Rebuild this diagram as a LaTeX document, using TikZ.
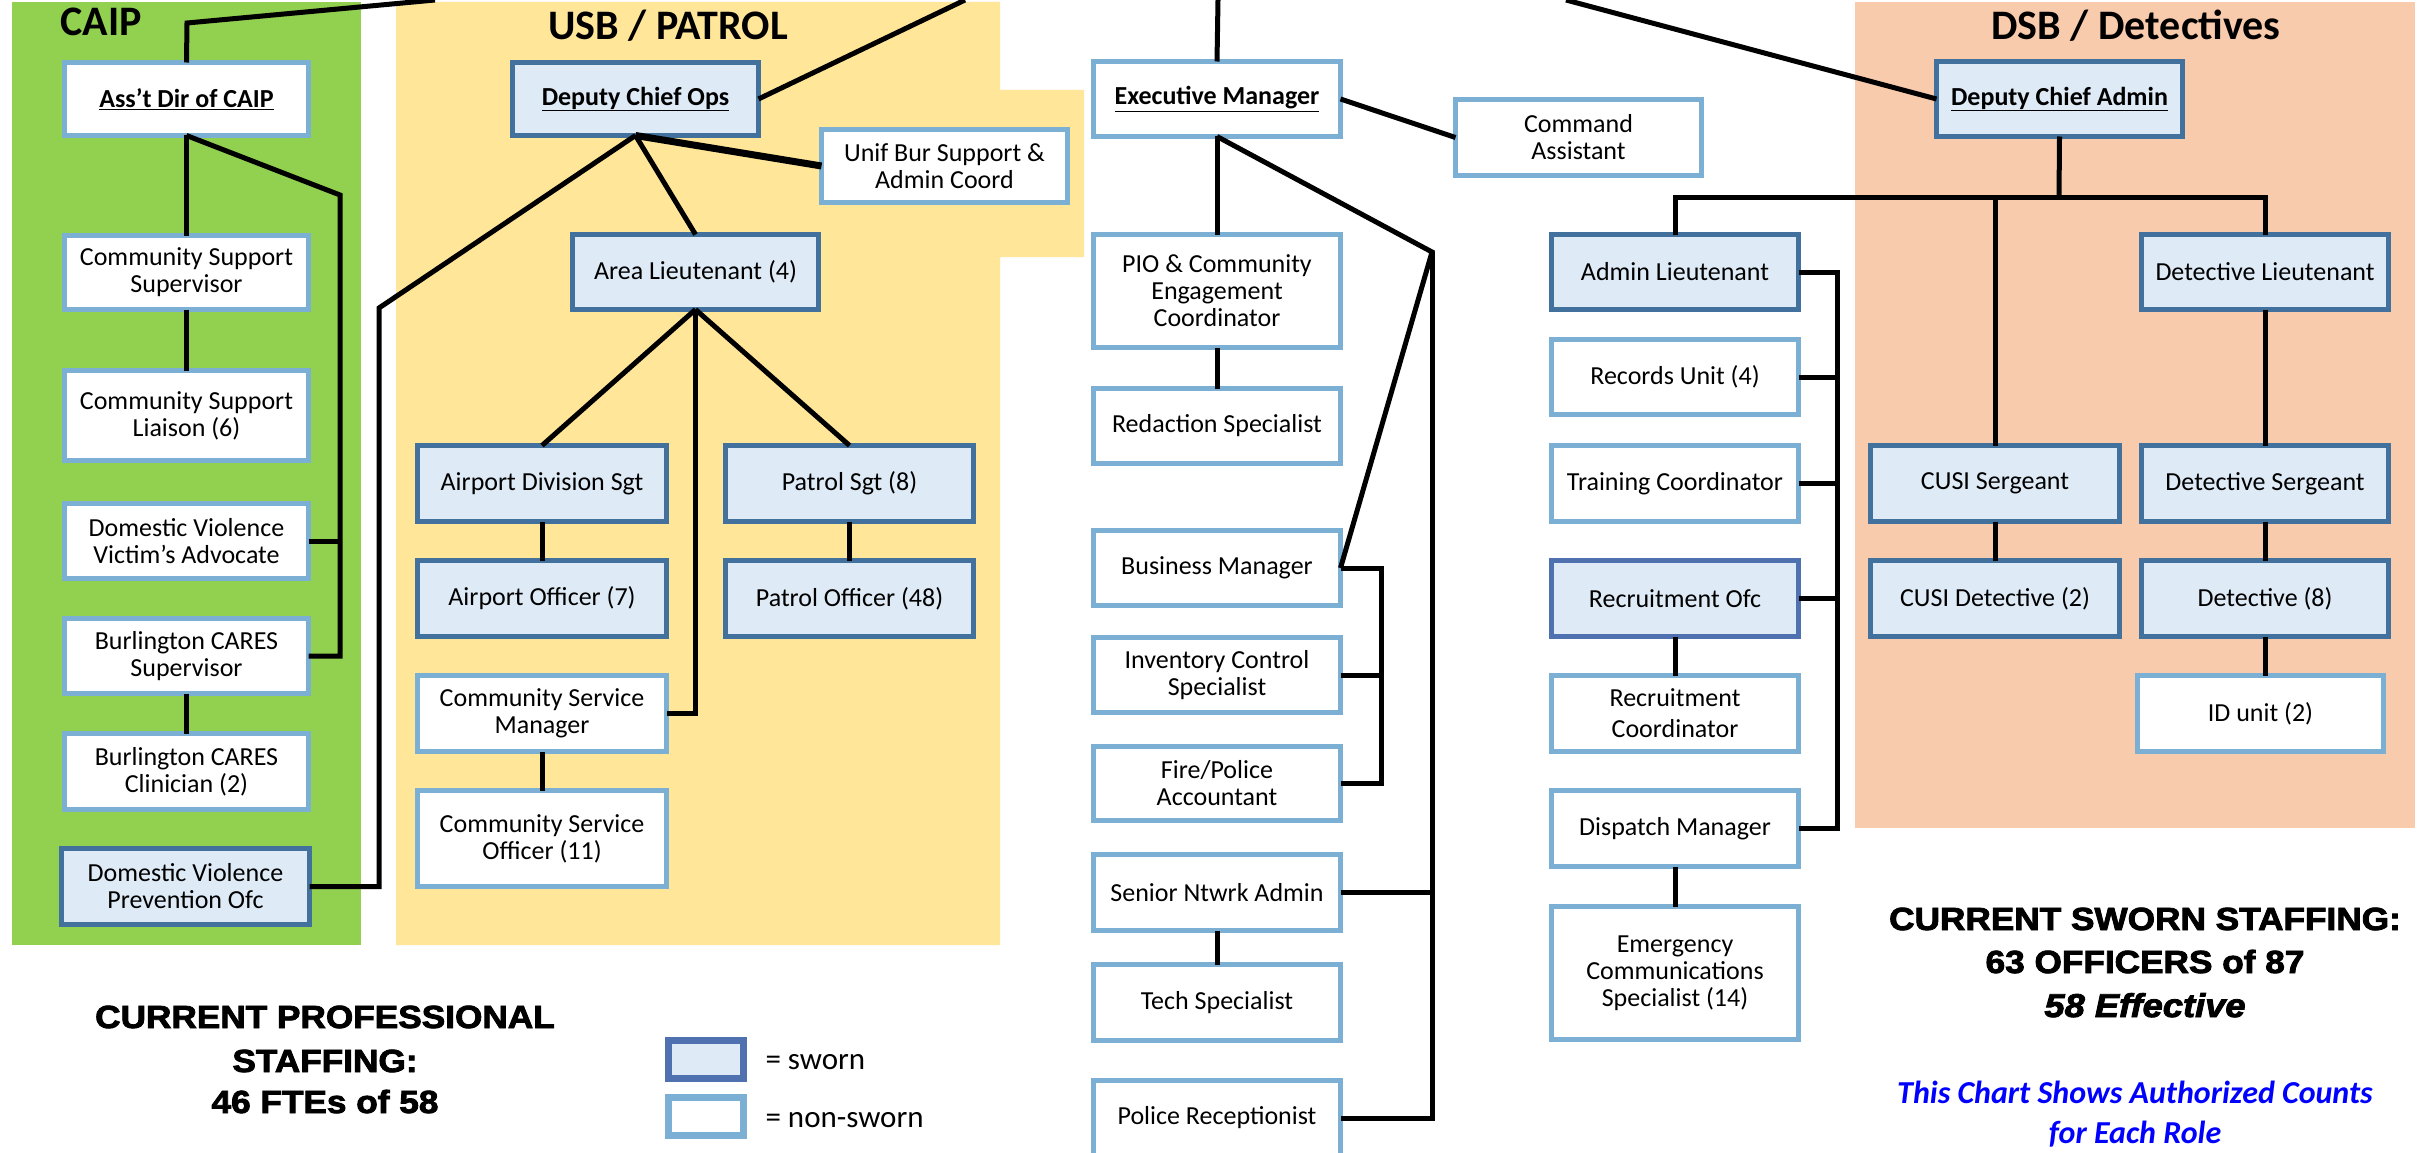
\documentclass[tikz,border=0pt]{standalone}
\usepackage{fontspec}
\usepackage{graphicx}
\setmainfont{Carlito}
\newfontfamily\heavyfont[FakeBold=2.5]{Liberation Sans Bold}
\newfontfamily\heavyitfont[FakeBold=2.5]{Liberation Sans Bold Italic}
\definecolor{caipgreen}{RGB}{146,208,80}
\definecolor{usbyellow}{RGB}{255,230,153}
\definecolor{dsborange}{RGB}{248,203,173}
\definecolor{nswline}{RGB}{123,175,212}
\definecolor{swline}{RGB}{65,113,156}
\definecolor{swlineb}{RGB}{79,113,176}
\definecolor{swfill}{RGB}{222,234,246}
\definecolor{chartblue}{RGB}{0,0,255}
\newcommand\orgbox[7]{\node[#1, minimum width={#5-#3-5}, minimum height={#6-#4-5}] (#2) at ({(#3+#5)/2},{(#4+#6)/2}) {#7};}
\begin{document}
\begin{tikzpicture}[x=1pt,y=-1pt,
  box/.style={line width=5pt, inner sep=3pt, outer sep=0pt, align=center, font=\fontsize{26}{27}\selectfont},
  nsw/.style={box, draw=nswline, fill=white},
  sw/.style={box, draw=swline, fill=swfill},
  swb/.style={box, draw=swlineb, fill=swfill},
  conn/.style={line width=5pt, line join=miter},
  thickconn/.style={line width=7pt},
  grouptitle/.style={font=\fontsize{42}{44}\selectfont\bfseries, anchor=base},
  heavy/.style={font=\heavyfont\fontsize{32}{43}\selectfont, anchor=base},
  heavyit/.style={font=\heavyitfont\fontsize{33}{43}\selectfont, anchor=base},
  chartnote/.style={font=\fontsize{32}{40}\selectfont\bfseries\itshape, text=chartblue, anchor=base},
  legtext/.style={font=\fontsize{31}{34}\selectfont, anchor=west},
  legbox/.style={line width=7pt, minimum width=75, minimum height=38, inner sep=0pt}]
\useasboundingbox (0,0) rectangle (2433,1153);
\fill[white] (0,0) rectangle (2433,1153);
% group backgrounds
\fill[caipgreen] (12,2) rectangle (361,945);
\fill[usbyellow] (396,2) -- (1000,2) -- (1000,90) -- (1084,90) -- (1084,257) -- (1000,257) -- (1000,945) -- (396,945) -- cycle;
\fill[dsborange] (1855,2) rectangle (2415,828);
% titles
\node[grouptitle, anchor=base west] (tcaip) at (57,36) {CAIP};
\node[grouptitle] (tusb) at (668,40) {USB / PATROL};
\node[grouptitle] (tdsb) at (2136,40) {DSB / Detectives};
% CAIP
\orgbox{nsw}{ad}{62}{60}{311}{138}{\bfseries\underline{Ass’t Dir of CAIP}}
\orgbox{nsw}{css}{62}{233}{311}{312}{Community Support\\Supervisor}
\orgbox{nsw}{csl}{62}{368}{311}{463}{Community Support\\Liaison (6)}
\orgbox{nsw}{dva}{62}{501}{311}{581}{Domestic Violence\\Victim’s Advocate}
\orgbox{nsw}{bcs}{62}{616}{311}{696}{Burlington CARES\\Supervisor}
\orgbox{nsw}{bcc}{62}{731}{311}{812}{Burlington CARES\\Clinician (2)}
\orgbox{sw}{dvp}{59}{846}{312}{927}{Domestic Violence\\Prevention Ofc}
% USB
\orgbox{sw}{dco}{510}{60}{761}{138}{\bfseries\underline{Deputy Chief Ops}}
\orgbox{nsw}{ubs}{819}{127}{1070}{205}{Unif Bur Support \&\\Admin Coord}
\orgbox{sw}{alt}{570}{232}{821}{312}{Area Lieutenant (4)}
\orgbox{sw}{ads}{415}{443}{669}{524}{Airport Division Sgt}
\orgbox{sw}{psg}{723}{443}{976}{524}{Patrol Sgt (8)}
\orgbox{sw}{aof}{415}{558}{669}{639}{Airport Officer (7)}
\orgbox{sw}{pof}{723}{558}{976}{639}{Patrol Officer (48)}
\orgbox{nsw}{csm}{415}{673}{669}{754}{Community Service\\Manager}
\orgbox{nsw}{cso}{415}{788}{669}{889}{Community Service\\Officer (11)}
% Executive
\orgbox{nsw}{em}{1091}{59}{1343}{139}{\bfseries\underline{Executive Manager}}
\orgbox{nsw}{ca}{1453}{97}{1704}{178}{Command\\Assistant}
\orgbox{nsw}{pio}{1091}{232}{1343}{350}{PIO \& Community\\Engagement\\Coordinator}
\orgbox{nsw}{rs}{1091}{386}{1343}{466}{Redaction Specialist}
\orgbox{nsw}{bm}{1091}{528}{1343}{608}{Business Manager}
\orgbox{nsw}{ics}{1091}{635}{1343}{715}{Inventory Control\\Specialist}
\orgbox{nsw}{fpa}{1091}{744}{1343}{823}{Fire/Police\\Accountant}
\orgbox{nsw}{sna}{1091}{852}{1343}{933}{Senior Ntwrk Admin}
\orgbox{nsw}{ts}{1091}{962}{1343}{1043}{Tech Specialist}
\orgbox{nsw}{pr}{1091}{1078}{1343}{1158}{Police Receptionist}
% Admin column
\orgbox{sw}{al}{1549}{232}{1801}{312}{Admin Lieutenant}
\orgbox{nsw}{ru}{1549}{337}{1801}{417}{Records Unit (4)}
\orgbox{nsw}{tc}{1549}{443}{1801}{524}{Training Coordinator}
\orgbox{swb}{ro}{1549}{558}{1801}{639}{Recruitment Ofc}
\orgbox{nsw}{rc}{1549}{673}{1801}{754}{Recruitment\\[4pt]Coordinator}
\orgbox{nsw}{dm}{1549}{788}{1801}{869}{Dispatch Manager}
\orgbox{nsw}{ecs}{1549}{904}{1801}{1042}{Emergency\\Communications\\Specialist (14)}
% DSB
\orgbox{sw}{dca}{1934}{59}{2185}{139}{\bfseries\underline{Deputy Chief Admin}}
\orgbox{sw}{dl}{2139}{232}{2391}{312}{Detective Lieutenant}
\orgbox{sw}{cs}{1868}{443}{2122}{524}{CUSI Sergeant}
\orgbox{sw}{ds}{2139}{443}{2391}{524}{Detective Sergeant}
\orgbox{sw}{cd}{1868}{558}{2122}{639}{CUSI Detective (2)}
\orgbox{sw}{det}{2139}{558}{2391}{639}{Detective (8)}
\orgbox{nsw}{id}{2135}{673}{2386}{754}{ID unit (2)}
% coordinates for connectors
\coordinate (topcaip) at (435,0);
\coordinate (caipknee) at (187,23);
\coordinate (topdco) at (965,0);
\coordinate (topem) at (1218,0);
\coordinate (topdca) at (1566,0);
\coordinate (caipx) at (340,195);
\coordinate (usbx) at (379,308);
\coordinate (emx) at (1432,252);
\coordinate (bmx) at (1381,568);
\coordinate (alx) at (1837,272);
\coordinate (dsbbus) at (2059,197);
% connectors from top
\draw[conn] (topcaip) -- (caipknee) -- (ad.north);
\draw[conn] (topdco) -- (dco.east);
\draw[conn] (topem) -- (em.north);
\draw[conn] (topdca) -- (dca.west);
% CAIP connectors
\draw[conn] (ad.south) -- (css.north);
\draw[conn] (css.south) -- (csl.north);
\draw[conn] (ad.south) -- (caipx) |- (bcs.east);
\draw[conn] (dva.east) -- (dva.east -| caipx);
\draw[conn] (bcs.south) -- (bcc.north);
% USB connectors
\draw[conn] (dco.south) -- (usbx) |- (dvp.east);
\draw[thickconn] (dco.south) -- (ubs.west);
\draw[conn] (dco.south) -- (alt.north);
\draw[conn] (alt.south) -- (ads.north);
\draw[conn] (alt.south) -- (psg.north);
\draw[conn] (alt.south) |- (csm.east);
\draw[conn] (ads.south) -- (aof.north);
\draw[conn] (psg.south) -- (pof.north);
\draw[conn] (csm.south) -- (cso.north);
% Executive connectors
\draw[conn] (em.east) -- (ca.west);
\draw[conn] (em.south) -- (pio.north);
\draw[conn] (pio.south) -- (rs.north);
\draw[conn] (em.south) -- (emx) -- (bm.east);
\draw[conn] (emx) |- (pr.east);
\draw[conn] (sna.east) -- (sna.east -| emx);
\draw[conn] (bm.east) -- (bmx) |- (fpa.east);
\draw[conn] (ics.east) -- (ics.east -| bmx);
\draw[conn] (sna.south) -- (ts.north);
% Admin connectors
\draw[conn] (al.east) -- (alx) |- (dm.east);
\draw[conn] (ru.east) -- (ru.east -| alx);
\draw[conn] (tc.east) -- (tc.east -| alx);
\draw[conn] (ro.east) -- (ro.east -| alx);
\draw[conn] (ro.south) -- (rc.north);
\draw[conn] (dm.south) -- (ecs.north);
% DSB connectors
\draw[conn] (dca.south) -- (dsbbus);
\draw[conn] (al.north) |- (dsbbus) -| (dl.north);
\draw[conn] (cs.north) -- (cs.north |- dsbbus);
\draw[conn] (dl.south) -- (ds.north);
\draw[conn] (cs.south) -- (cd.north);
\draw[conn] (ds.south) -- (det.north);
\draw[conn] (det.south) -- (det.south |- id.north);
% staffing texts
\node[heavy] (prof1) at (325,1028) {\scalebox{1.1}[1]{CURRENT PROFESSIONAL}};
\node[heavy] (prof2) at (325,1072) {\scalebox{1.1}[1]{STAFFING:}};
\node[heavy] (prof3) at (325,1113) {\scalebox{1.1}[1]{46 FTEs of 58}};
\node[heavy] (sworn1) at (2145,930) {\scalebox{1.1}[1]{CURRENT SWORN STAFFING:}};
\node[heavy] (sworn2) at (2145,973) {\scalebox{1.1}[1]{63 OFFICERS of 87}};
\node[heavyit] (sworn3) at (2145,1017) {\scalebox{1.1}[1]{58 Effective}};
\node[chartnote] (note1) at (2135,1103) {This Chart Shows Authorized Counts};
\node[chartnote] (note2) at (2135,1143) {for Each Role};
% legend
\node[legbox, draw=swlineb, fill=swfill] (legsw) at (706,1059.5) {};
\node[legbox, draw=nswline, fill=white] (legnsw) at (706,1116.5) {};
\node[legtext] (legswt) at (762,1062) {= sworn};
\node[legtext] (legnswt) at (762,1120) {= non-sworn};
\end{tikzpicture}
\end{document}
